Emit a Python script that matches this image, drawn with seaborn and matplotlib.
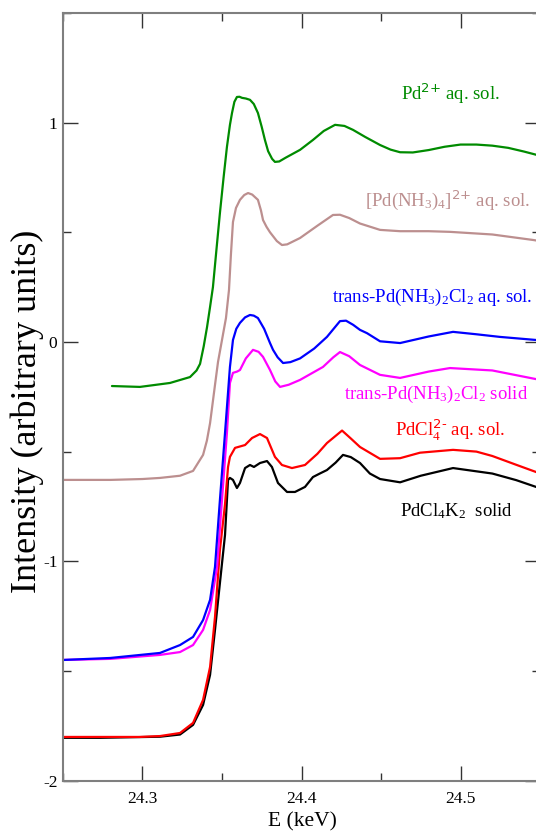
import seaborn as sns
import numpy as np
import pandas as pd
import matplotlib.pyplot as plt
from matplotlib.ticker import MultipleLocator, FormatStrFormatter

# Pd K-edge XANES spectra, energy in keV, intensity offset per sample
pd2_e = [24.2808, 24.2984, 24.3173, 24.3299, 24.3340, 24.3362, 24.3385, 24.3406, 24.3425,
         24.3443, 24.3465, 24.3487, 24.3510, 24.3531, 24.3550, 24.3563, 24.3578, 24.3594,
         24.3610, 24.3626, 24.3650, 24.3676, 24.3700, 24.3726, 24.3750, 24.3770, 24.3790,
         24.3815, 24.3833, 24.3860, 24.3900, 24.3991, 24.4072, 24.4140, 24.4211, 24.4270,
         24.4324, 24.4400, 24.4494, 24.4560, 24.4620, 24.4700, 24.4800, 24.4900, 24.5000,
         24.5100, 24.5200, 24.5300, 24.5400, 24.5500]
pd2_mu = [-0.201, -0.205, -0.187, -0.160, -0.130, -0.100, -0.020, 0.068, 0.160,
          0.250, 0.420, 0.588, 0.750, 0.889, 0.990, 1.044, 1.095, 1.117,
          1.118, 1.113, 1.110, 1.104, 1.085, 1.044, 0.980, 0.921, 0.870,
          0.835, 0.821, 0.823, 0.840, 0.876, 0.921, 0.962, 0.990, 0.985,
          0.967, 0.935, 0.898, 0.877, 0.865, 0.864, 0.875, 0.890, 0.900,
          0.900, 0.895, 0.885, 0.868, 0.849]

nh34_e = [24.2500, 24.2800, 24.3000, 24.3110, 24.3236, 24.3318, 24.3381, 24.3405, 24.3425,
          24.3456, 24.3475, 24.3500, 24.3525, 24.3544, 24.3556, 24.3569, 24.3588, 24.3613,
          24.3640, 24.3664, 24.3690, 24.3726, 24.3745, 24.3758, 24.3780, 24.3802, 24.3845,
          24.3877, 24.3910, 24.3991, 24.4100, 24.4198, 24.4242, 24.4300, 24.4368, 24.4494,
          24.4620, 24.4800, 24.4934, 24.5200, 24.5456, 24.5500]
nh34_mu = [-0.629, -0.629, -0.625, -0.620, -0.610, -0.588, -0.515, -0.450, -0.370,
           -0.196, -0.091, 0.009, 0.109, 0.237, 0.397, 0.547, 0.611, 0.648,
           0.670, 0.679, 0.672, 0.648, 0.600, 0.556, 0.525, 0.500, 0.460,
           0.442, 0.445, 0.474, 0.530, 0.579, 0.580, 0.565, 0.540, 0.511,
           0.505, 0.505, 0.502, 0.490, 0.465, 0.460]

trans_aq_e = [24.2500, 24.2796, 24.3110, 24.3236, 24.3318, 24.3381, 24.3425, 24.3456, 24.3487,
              24.3519, 24.3550, 24.3569, 24.3590, 24.3613, 24.3645, 24.3676, 24.3700, 24.3726,
              24.3765, 24.3802, 24.3821, 24.3850, 24.3884, 24.3930, 24.3991, 24.4080, 24.4160,
              24.4242, 24.4280, 24.4325, 24.4368, 24.4412, 24.4494, 24.4620, 24.4800, 24.4953,
              24.5100, 24.5248, 24.5475, 24.5500]
trans_aq_mu = [-1.450, -1.441, -1.418, -1.382, -1.345, -1.268, -1.176, -1.026, -0.720,
               -0.415, -0.114, 0.009, 0.060, 0.087, 0.112, 0.123, 0.120, 0.109,
               0.060, -0.005, -0.036, -0.070, -0.096, -0.092, -0.075, -0.030, 0.023,
               0.095, 0.097, 0.078, 0.055, 0.040, 0.003, -0.005, 0.025, 0.046,
               0.035, 0.023, 0.009, 0.005]

trans_s_e = [24.2500, 24.2800, 24.3110, 24.3236, 24.3318, 24.3381, 24.3425, 24.3469, 24.3500,
             24.3531, 24.3550, 24.3569, 24.3595, 24.3613, 24.3650, 24.3695, 24.3730, 24.3758,
             24.3802, 24.3835, 24.3865, 24.3920, 24.3991, 24.4135, 24.4200, 24.4242, 24.4300,
             24.4368, 24.4494, 24.4620, 24.4800, 24.4934, 24.5200, 24.5500]
trans_s_mu = [-1.450, -1.445, -1.427, -1.414, -1.382, -1.313, -1.222, -1.026, -0.720,
              -0.415, -0.187, -0.141, -0.135, -0.128, -0.075, -0.036, -0.045, -0.068,
              -0.128, -0.180, -0.205, -0.195, -0.173, -0.114, -0.070, -0.046, -0.065,
              -0.105, -0.150, -0.164, -0.135, -0.119, -0.130, -0.173]

pdcl4_e = [24.2500, 24.2984, 24.3110, 24.3236, 24.3318, 24.3381, 24.3425, 24.3456, 24.3487,
           24.3519, 24.3538, 24.3550, 24.3582, 24.3645, 24.3689, 24.3739, 24.3783, 24.3833,
           24.3877, 24.3940, 24.4022, 24.4100, 24.4160, 24.4255, 24.4310, 24.4368, 24.4494,
           24.4620, 24.4745, 24.4953, 24.5100, 24.5200, 24.5350, 24.5475, 24.5500]
pdcl4_mu = [-1.801, -1.801, -1.797, -1.783, -1.737, -1.632, -1.482, -1.254, -0.948,
            -0.740, -0.570, -0.524, -0.483, -0.470, -0.438, -0.420, -0.438, -0.524,
            -0.561, -0.575, -0.561, -0.510, -0.461, -0.404, -0.440, -0.479, -0.533,
            -0.530, -0.505, -0.492, -0.500, -0.520, -0.560, -0.593, -0.597]

k2_e = [24.2500, 24.2733, 24.3110, 24.3236, 24.3318, 24.3381, 24.3425, 24.3456, 24.3487,
        24.3519, 24.3538, 24.3550, 24.3569, 24.3594, 24.3613, 24.3645, 24.3676, 24.3701,
        24.3739, 24.3783, 24.3814, 24.3852, 24.3909, 24.3959, 24.4022, 24.4072, 24.4115,
        24.4160, 24.4215, 24.4261, 24.4310, 24.4368, 24.4430, 24.4494, 24.4620, 24.4750,
        24.4953, 24.5200, 24.5350, 24.5475, 24.5500]
k2_mu = [-1.805, -1.805, -1.800, -1.790, -1.746, -1.655, -1.518, -1.313, -1.099,
         -0.880, -0.629, -0.620, -0.629, -0.666, -0.643, -0.575, -0.561, -0.570,
         -0.552, -0.543, -0.570, -0.643, -0.684, -0.684, -0.661, -0.616, -0.600,
         -0.584, -0.550, -0.515, -0.525, -0.552, -0.600, -0.625, -0.640, -0.610,
         -0.575, -0.600, -0.630, -0.661, -0.663]

labels = [r'Pd$^{\text{2+}}$ aq. sol.',
          r'[Pd(NH$_3$)$_4$]$^{\text{2+}}$ aq. sol.',
          r'trans-Pd(NH$_3$)$_2$Cl$_2$ aq. sol.',
          r'trans-Pd(NH$_3$)$_2$Cl$_2$ solid',
          r'PdCl$_4^{\text{2-}}$ aq. sol.',
          r'PdCl$_4$K$_2$  solid']
label_x = [24.4624, 24.4399, 24.4192, 24.4267, 24.4588, 24.4620]
label_y = [1.104, 0.620, 0.184, -0.261, -0.432, -0.797]
colors = ['#008b00', '#bc8f8f', '#0000ff', '#ff00ff', '#ff0000', '#000000']

series = [(pd2_e, pd2_mu), (nh34_e, nh34_mu), (trans_aq_e, trans_aq_mu),
          (trans_s_e, trans_s_mu), (pdcl4_e, pdcl4_mu), (k2_e, k2_mu)]

sns.set_theme(style='ticks')
plt.rcParams['font.family'] = ['Liberation Serif', 'DejaVu Serif']
plt.rcParams['mathtext.default'] = 'regular'
plt.rcParams['axes.unicode_minus'] = False

fig = plt.figure(figsize=(5.36, 8.32), dpi=100)
ax = fig.add_axes([0.1175, 0.0618, 0.89, 0.9226])

# draw black first so red sits on top, magenta before blue
for i in [5, 4, 3, 2, 1, 0]:
    e, mu = series[i]
    df = pd.DataFrame({'E': e, 'I': mu})
    sns.lineplot(data=df, x='E', y='I', color=colors[i], linewidth=1.6,
                 estimator=None, sort=False, ax=ax)
    ax.text(label_x[i], label_y[i], labels[i], color=colors[i], fontsize=13.5,
            ha='left', va='baseline')

ax.set_xlim(24.25, 24.55)
ax.set_ylim(-2, 1.5)
ax.xaxis.set_major_locator(MultipleLocator(0.1))
ax.xaxis.set_minor_locator(MultipleLocator(0.05))
ax.yaxis.set_major_locator(MultipleLocator(1))
ax.yaxis.set_minor_locator(MultipleLocator(0.5))
ax.xaxis.set_major_formatter(FormatStrFormatter('%.1f'))
ax.yaxis.set_major_formatter(FormatStrFormatter('%g'))

ax.tick_params(which='both', direction='in', top=True, right=True, color='#333333',
               width=1.0, labelsize=12.5, labelcolor='black')
ax.tick_params(which='major', length=10.8)
ax.tick_params(which='minor', length=5.8)
ax.tick_params(axis='x', which='major', pad=7.5)
ax.tick_params(axis='y', which='major', pad=4)

for sp in ax.spines.values():
    sp.set_color('#7f7f7f')
    sp.set_linewidth(1.5)

ax.set_xlabel('E (keV)', fontsize=15.5, color='black')
ax.set_ylabel('Intensity (arbitrary units)', fontsize=26, color='black')
ax.xaxis.set_label_coords(0.502, -0.0665)
ax.xaxis.label.set_va('bottom')
ax.yaxis.set_label_coords(-0.0398, 0.4815)

fig.savefig('out.png', dpi=100)
